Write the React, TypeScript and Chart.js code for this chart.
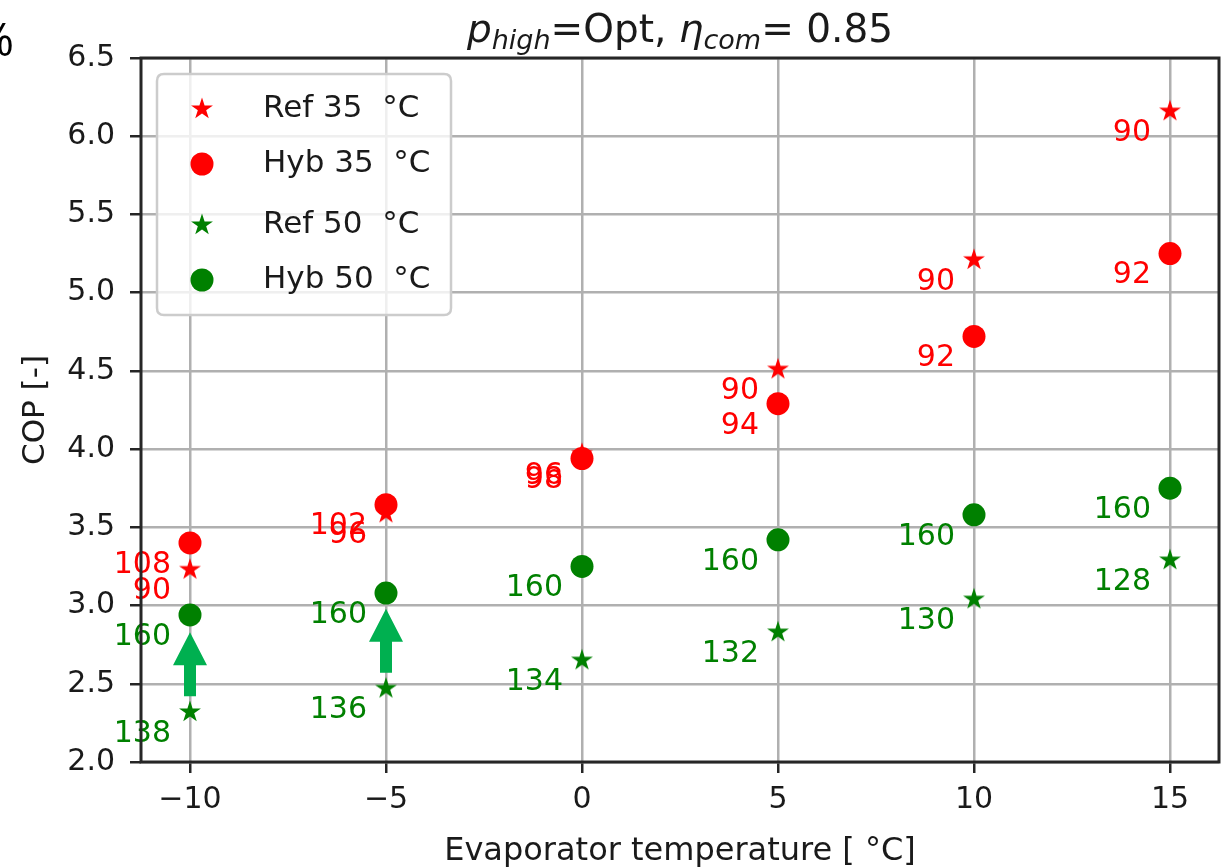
import React, { useEffect, useRef } from "react";
import { Chart, registerables } from "chart.js";
Chart.register(...registerables);

// ---- data ----
const evapTemps = [-10, -5, 0, 5, 10, 15];
const ref35 = [3.23, 3.59, 3.97, 4.51, 5.21, 6.16];
const hyb35 = [3.4, 3.645, 3.94, 4.29, 4.72, 5.25];
const ref50 = [2.32, 2.47, 2.65, 2.83, 3.04, 3.29];
const hyb50 = [2.94, 3.08, 3.25, 3.42, 3.58, 3.75];

const ref35Labels = ["90", "96", "96", "90", "90", "90"];
const hyb35Labels = ["108", "102", "98", "94", "92", "92"];
const ref50Labels = ["138", "136", "134", "132", "130", "128"];
const hyb50Labels = ["160", "160", "160", "160", "160", "160"];

const seriesNames = ["Ref 35  °C", "Hyb 35  °C", "Ref 50  °C", "Hyb 50  °C"];

const xTicks = [-10, -5, 0, 5, 10, 15];
const yTicks = [2.0, 2.5, 3.0, 3.5, 4.0, 4.5, 5.0, 5.5, 6.0, 6.5];
const xMin = -11.25;
const xMax = 16.25;
const yMin = 2.0;
const yMax = 6.5;

// arrows (improvement markers)
const arrowX = [-10, -5];
const arrowFrom = [2.42, 2.57];
const arrowTo = [2.83, 2.98];

const RED = "#ff0000";
const GREEN = "#008000";
const ARROW = "#00b050";
const FONT = "'DejaVu Sans', sans-serif";
const TXT = "#1a1a1a";

function makeStar(color: string): HTMLCanvasElement {
  const c = document.createElement("canvas");
  c.width = 26;
  c.height = 26;
  const ctx = c.getContext("2d")!;
  const R = 11.5;
  const r = R * 0.381966;
  ctx.beginPath();
  for (let i = 0; i < 10; i++) {
    const rad = i % 2 === 0 ? R : r;
    const a = -Math.PI / 2 + (i * Math.PI) / 5;
    const x = 13 + rad * Math.cos(a);
    const y = 13 + rad * Math.sin(a);
    if (i === 0) ctx.moveTo(x, y);
    else ctx.lineTo(x, y);
  }
  ctx.closePath();
  ctx.fillStyle = color;
  ctx.fill();
  return c;
}

export default function App() {
  const ref = useRef<HTMLCanvasElement | null>(null);

  useEffect(() => {
    document.body.style.margin = "0";
    const canvas = ref.current!;
    const redStar = makeStar(RED);
    const greenStar = makeStar(GREEN);
    const pts = (ys: number[]) => evapTemps.map((x, i) => ({ x, y: ys[i] }));
    const labelSets = [ref35Labels, hyb35Labels, ref50Labels, hyb50Labels];
    const labelColors = [RED, RED, GREEN, GREEN];

    const overlay = {
      id: "overlay",
      afterDatasetsDraw(chart: any) {
        const ctx = chart.ctx;
        const xs = chart.scales.x;
        const ys = chart.scales.y;
        ctx.save();
        // point annotations
        ctx.font = `30px ${FONT}`;
        ctx.textAlign = "right";
        ctx.textBaseline = "middle";
        chart.data.datasets.forEach((ds: any, di: number) => {
          const meta = chart.getDatasetMeta(di);
          ctx.fillStyle = labelColors[di];
          meta.data.forEach((el: any, i: number) => {
            ctx.fillText(labelSets[di][i], el.x - 19, el.y + 22);
          });
        });
        // arrows
        ctx.fillStyle = ARROW;
        arrowX.forEach((ax, i) => {
          const px = xs.getPixelForValue(ax);
          const y0 = ys.getPixelForValue(arrowFrom[i]);
          const y1 = ys.getPixelForValue(arrowTo[i]);
          const headLen = 33;
          const headHalf = 17;
          const shaftHalf = 6;
          ctx.beginPath();
          ctx.moveTo(px - shaftHalf, y0);
          ctx.lineTo(px - shaftHalf, y1 + headLen);
          ctx.lineTo(px - headHalf, y1 + headLen);
          ctx.lineTo(px, y1);
          ctx.lineTo(px + headHalf, y1 + headLen);
          ctx.lineTo(px + shaftHalf, y1 + headLen);
          ctx.lineTo(px + shaftHalf, y0);
          ctx.closePath();
          ctx.fill();
        });
        ctx.restore();
      },
      afterDraw(chart: any) {
        const ctx = chart.ctx;
        const a = chart.chartArea;
        ctx.save();
        // spines
        ctx.strokeStyle = "#262626";
        ctx.lineWidth = 3;
        ctx.strokeRect(a.left, a.top, a.right - a.left, a.bottom - a.top);

        // title
        const cx = (a.left + a.right) / 2;
        const base = 42;
        const segs: [string, string, number][] = [
          ["p", `italic 39px ${FONT}`, 0],
          ["high", `italic 27px ${FONT}`, 7],
          ["=Opt, ", `39px ${FONT}`, 0],
          ["η", `italic 39px ${FONT}`, 0],
          ["com", `italic 27px ${FONT}`, 7],
          ["= 0.85", `39px ${FONT}`, 0],
        ];
        let total = 0;
        segs.forEach(([t, f]) => {
          ctx.font = f;
          total += ctx.measureText(t).width;
        });
        let x = cx - total / 2;
        ctx.fillStyle = TXT;
        ctx.textAlign = "left";
        ctx.textBaseline = "alphabetic";
        segs.forEach(([t, f, dy]) => {
          ctx.font = f;
          ctx.fillText(t, x, base + dy);
          x += ctx.measureText(t).width;
        });

        // axis titles
        ctx.font = `32px ${FONT}`;
        ctx.textAlign = "center";
        ctx.textBaseline = "middle";
        ctx.fillText("Evaporator temperature [ °C]", cx, 852);
        ctx.save();
        ctx.translate(36, (a.top + a.bottom) / 2);
        ctx.rotate(-Math.PI / 2);
        ctx.font = `31px ${FONT}`;
        ctx.fillText("COP [-]", 0, 0);
        ctx.restore();

        // stray glyph at top-left edge
        ctx.font = `46px 'Open Sans', sans-serif`;
        ctx.textAlign = "right";
        ctx.textBaseline = "alphabetic";
        ctx.fillStyle = "#000";
        ctx.fillText("%", 14, 56);

        // legend
        const lx = 157, ly = 74, lw = 294, lh = 241, rr = 7;
        ctx.beginPath();
        ctx.moveTo(lx + rr, ly);
        ctx.lineTo(lx + lw - rr, ly);
        ctx.quadraticCurveTo(lx + lw, ly, lx + lw, ly + rr);
        ctx.lineTo(lx + lw, ly + lh - rr);
        ctx.quadraticCurveTo(lx + lw, ly + lh, lx + lw - rr, ly + lh);
        ctx.lineTo(lx + rr, ly + lh);
        ctx.quadraticCurveTo(lx, ly + lh, lx, ly + lh - rr);
        ctx.lineTo(lx, ly + rr);
        ctx.quadraticCurveTo(lx, ly, lx + rr, ly);
        ctx.closePath();
        ctx.fillStyle = "rgba(255,255,255,0.8)";
        ctx.fill();
        ctx.strokeStyle = "#cccccc";
        ctx.lineWidth = 2.5;
        ctx.stroke();
        const rowY = [109, 164, 225, 280];
        chart.data.datasets.forEach((ds: any, i: number) => {
          const my = rowY[i];
          if (ds.pointStyle instanceof HTMLCanvasElement) {
            ctx.drawImage(ds.pointStyle, 202 - 13, my - 13);
          } else {
            ctx.beginPath();
            ctx.arc(202, my, 11.5, 0, Math.PI * 2);
            ctx.fillStyle = ds.backgroundColor;
            ctx.fill();
          }
          ctx.fillStyle = TXT;
          ctx.font = `31px ${FONT}`;
          ctx.textAlign = "left";
          ctx.textBaseline = "middle";
          ctx.fillText(ds.label, 263, my);
        });
        ctx.restore();
      },
    };

    const chart = new Chart(canvas, {
      type: "scatter",
      data: {
        datasets: [
          { label: seriesNames[0], data: pts(ref35), pointStyle: redStar as any, backgroundColor: RED, borderColor: RED },
          { label: seriesNames[1], data: pts(hyb35), pointStyle: "circle", pointRadius: 11.5, borderWidth: 0, backgroundColor: RED, borderColor: RED },
          { label: seriesNames[2], data: pts(ref50), pointStyle: greenStar as any, backgroundColor: GREEN, borderColor: GREEN },
          { label: seriesNames[3], data: pts(hyb50), pointStyle: "circle", pointRadius: 11.5, borderWidth: 0, backgroundColor: GREEN, borderColor: GREEN },
        ],
      },
      options: {
        animation: false,
        responsive: false,
        layout: { autoPadding: false, padding: { top: 58, right: 2, left: 0, bottom: 0 } },
        plugins: {
          legend: { display: false },
          tooltip: { enabled: false },
          title: { display: false },
        },
        scales: {
          x: {
            type: "linear",
            min: xMin,
            max: xMax,
            afterBuildTicks: (s: any) => {
              s.ticks = xTicks.map((v) => ({ value: v }));
            },
            afterFit: (s: any) => {
              s.height = 106;
              s.paddingLeft = 0;
              s.paddingRight = 0;
            },
            ticks: {
              font: { family: FONT, size: 30 },
              color: TXT,
              padding: 9,
              maxRotation: 0,
              autoSkip: false,
              callback: (v: any) => String(v).replace("-", "\u2212"),
            },
            grid: {
              color: "#b0b0b0",
              lineWidth: 2.5,
              tickLength: 11,
              tickColor: "#262626",
              tickWidth: 2.5,
            },
            border: { display: false },
          },
          y: {
            type: "linear",
            min: yMin,
            max: yMax,
            afterBuildTicks: (s: any) => {
              s.ticks = yTicks.map((v) => ({ value: v }));
            },
            afterFit: (s: any) => {
              s.width = 141;
              s.paddingTop = 0;
              s.paddingBottom = 0;
            },
            ticks: {
              font: { family: FONT, size: 30 },
              color: TXT,
              padding: 15,
              autoSkip: false,
              callback: (v: any) => Number(v).toFixed(1),
            },
            grid: {
              color: "#b0b0b0",
              lineWidth: 2.5,
              tickLength: 11,
              tickColor: "#262626",
              tickWidth: 2.5,
            },
            border: { display: false },
          },
        },
      } as any,
      plugins: [overlay],
    });

    return () => chart.destroy();
  }, []);

  return (
    <div style={{ width: 1221, height: 868 }}>
      <canvas ref={ref} width={1221} height={868} style={{ display: "block" }} />
    </div>
  );
}
